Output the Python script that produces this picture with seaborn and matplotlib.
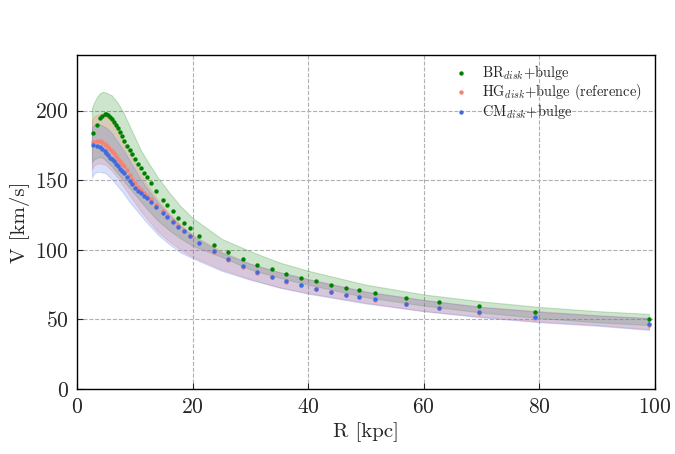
import numpy as np
import pandas as pd
import matplotlib
matplotlib.use("Agg")
import matplotlib.pyplot as plt
import seaborn as sns

# radii of the rotation curve points [kpc]
R_pts = [2.8, 3.4, 4.0, 4.4, 4.8, 5.1, 5.4, 5.8, 6.1, 6.45,
         6.8, 7.15, 7.5, 7.8, 8.1, 8.6, 9.1, 9.6, 10.1, 10.6,
         11.1, 11.6, 12.1, 12.75, 13.7, 14.9, 15.5, 16.55, 17.5, 18.5,
         19.5, 21.2, 23.8, 26.2, 28.8, 31.2, 33.7, 36.2, 38.7, 41.3,
         43.9, 46.5, 48.8, 51.6, 57.0, 62.6, 69.5, 79.3, 99.0]

V_BR = [183.8, 189.7, 194.5, 196.4, 197.6, 197.6, 196.9, 195.7, 194.0, 192.1,
        189.7, 187.3, 184.5, 181.6, 178.5, 174.5, 171.5, 168.5, 165.0, 162.0,
        158.5, 155.5, 152.2, 148.0, 142.2, 135.5, 132.4, 127.6, 123.1, 119.2,
        115.6, 110.2, 103.4, 98.4, 93.4, 89.4, 86.0, 82.9, 80.1, 77.4,
        74.7, 72.9, 71.2, 69.0, 65.7, 62.6, 59.5, 55.7, 50.0]

V_HG = [177.5, 178.3, 178.3, 177.7, 176.3, 175.2, 174.0, 172.4, 171.0, 169.4,
        167.5, 165.6, 163.6, 161.8, 160.0, 157.0, 154.0, 151.0, 148.0, 145.5,
        143.0, 141.0, 139.0, 136.5, 132.5, 127.8, 124.3, 120.8, 116.8, 113.8,
        110.0, 104.8, 98.7, 93.0, 88.0, 83.6, 80.2, 77.1, 74.4, 71.9,
        69.7, 67.6, 65.9, 64.2, 60.8, 58.0, 54.9, 51.3, 46.1]

V_CM = [175.5, 174.9, 173.7, 172.4, 170.8, 169.4, 168.0, 166.2, 165.0, 163.5,
        161.8, 160.0, 158.2, 156.5, 155.0, 152.5, 149.5, 147.0, 144.5, 142.5,
        140.5, 138.5, 137.0, 134.5, 130.8, 126.5, 123.5, 120.2, 116.5, 113.5,
        110.0, 105.0, 99.0, 93.5, 88.3, 83.9, 80.5, 77.4, 74.7, 72.2,
        70.0, 67.9, 66.2, 64.5, 61.1, 58.3, 55.2, 51.6, 46.4]

# uncertainty bands of the models
R_band = [2.6, 3, 3.5, 4, 4.5, 5, 6, 7, 8, 9, 10, 11, 12, 14, 16, 18, 20,
          25, 30, 35, 40, 50, 60, 70, 80, 90, 99]
BR_hi = [202, 206, 210, 212.5, 213.5, 213, 211, 206, 199, 190, 181, 172, 165,
         152, 141, 131, 123, 108, 99, 91, 85, 75, 68, 63, 59, 56, 54]
BR_lo = [163, 165, 166, 166.5, 166, 164, 160, 155, 150, 145, 140, 135, 130,
         121, 114, 108, 103, 95, 86, 80, 75, 66, 60, 55, 51, 48, 46]
HG_hi = [193, 196, 197, 197.5, 197, 196, 192, 186, 179, 171, 163, 155, 148,
         136, 126, 118, 111, 99, 90, 84, 79, 70, 64, 59, 56, 53, 51]
HG_lo = [158, 161, 162, 162, 161.5, 161, 157, 152, 146, 140, 134, 128, 123,
         113, 106, 100, 95, 86, 79, 73, 69, 62, 56, 52, 48.5, 46, 43]
CM_hi = [188, 190, 190.5, 190, 189, 188, 184, 178, 172, 165, 158, 151, 145,
         134, 125, 117, 110, 98, 90, 84, 79, 70, 64, 59, 55.5, 53, 51]
CM_lo = [152, 155, 156, 156, 155.5, 155, 151, 146, 141, 135, 130, 125, 120,
         111, 104, 98, 94, 85, 78.5, 73, 68.5, 61.5, 56, 51.5, 48, 45.5, 42.5]

labels = [r"BR$_{disk}$+bulge", r"HG$_{disk}$+bulge (reference)", r"CM$_{disk}$+bulge"]
colors = ["green", "salmon", "royalblue"]

sns.set_style("ticks")
plt.rcParams["font.family"] = "serif"
plt.rcParams["font.serif"] = ["cmr10", "DejaVu Serif"]
plt.rcParams["mathtext.fontset"] = "cm"
plt.rcParams["axes.formatter.use_mathtext"] = True

fig = plt.figure(figsize=(6.75, 4.54), dpi=100)
ax = fig.add_axes([0.114, 0.143, 0.856, 0.736])

# bands first
ax.fill_between(R_band, BR_lo, BR_hi, color="green", alpha=0.2, lw=0.8)
ax.fill_between(R_band, HG_lo, HG_hi, color="salmon", alpha=0.25, lw=0.8)
ax.fill_between(R_band, CM_lo, CM_hi, color="royalblue", alpha=0.2, lw=0.8)

for V, lab, c in zip([V_BR, V_HG, V_CM], labels, colors):
    df = pd.DataFrame({"R": R_pts, "V": V})
    sns.scatterplot(data=df, x="R", y="V", ax=ax, color=c, s=10,
                    linewidth=0, label=lab, zorder=3)

ax.set_xlim(0, 100)
ax.set_ylim(0, 240)
ax.set_xticks([0, 20, 40, 60, 80, 100])
ax.set_yticks([0, 50, 100, 150, 200])
ax.grid(True, linestyle="--", color="#b0b0b0", linewidth=0.8)
ax.set_axisbelow(True)
ax.tick_params(labelsize=15.5, direction="in", length=4, pad=6)
ax.set_xlabel("R [kpc]", fontsize=15)
ax.set_ylabel("V [km/s]", fontsize=15)
for sp in ax.spines.values():
    sp.set_color("black")
    sp.set_linewidth(1.0)

ax.legend(loc="upper right", bbox_to_anchor=(1.0, 1.015), frameon=False,
          fontsize=10.4, markerscale=1.0, handletextpad=0.5,
          labelspacing=0.0, borderaxespad=0.5)

fig.savefig("out.png", dpi=100)
